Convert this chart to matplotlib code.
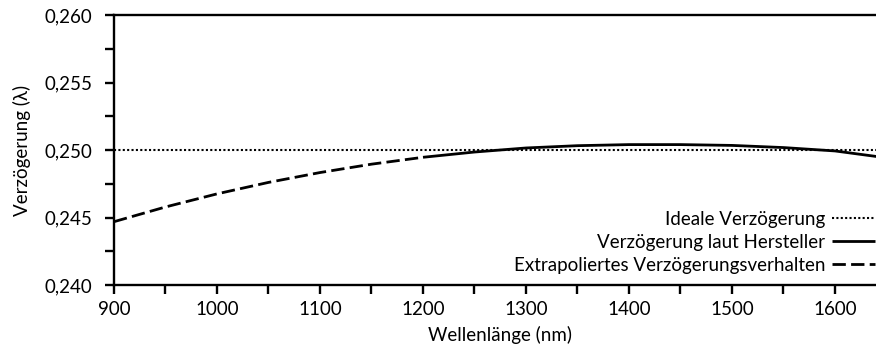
import numpy as np
import matplotlib
matplotlib.use("Agg")
import matplotlib.pyplot as plt
from matplotlib.ticker import MultipleLocator, FuncFormatter

plt.rcParams['font.family'] = ['Lato', 'DejaVu Sans']

# Extrapolated retardation (below the manufacturer's range)
wl_extra = [900, 950, 1000, 1050, 1100, 1150, 1200]
ret_extra = [0.24469, 0.24578, 0.24675, 0.24760, 0.24833, 0.24895, 0.24946]

# Retardation according to manufacturer
wl_manu = [1200, 1250, 1300, 1350, 1400, 1450, 1500, 1550, 1600, 1650]
ret_manu = [0.24946, 0.24985, 0.25015, 0.25032, 0.25040, 0.25040, 0.25034, 0.25018, 0.24993, 0.24942]

# Ideal quarter-wave retardation
ideal = 0.250

labels = ["Ideale Verzögerung", "Verzögerung laut Hersteller",
          "Extrapoliertes Verzögerungsverhalten"]

FS = 13.5
W, H = 876, 349
fig = plt.figure(figsize=(W / 100, H / 100), dpi=100)
x0, x1, y0, y1 = 114, 886.5, 285, 15
ax = fig.add_axes([x0 / W, 1 - y0 / H, (x1 - x0) / W, (y0 - y1) / H])

ax.plot([900, 1650], [ideal, ideal], color='black', lw=1.5,
        linestyle=(0, (1.0, 1.1)), label=labels[0])
ax.plot(wl_manu, ret_manu, color='black', lw=2.0, label=labels[1],
        solid_capstyle='butt')
ax.plot(wl_extra, ret_extra, color='black', lw=2.0,
        linestyle=(0, (4.8, 1.9)), label=labels[2])

ax.set_xlim(900, 1650)
ax.set_ylim(0.240, 0.260)
ax.xaxis.set_major_locator(MultipleLocator(100))
ax.xaxis.set_minor_locator(MultipleLocator(50))
ax.yaxis.set_major_locator(MultipleLocator(0.005))
ax.yaxis.set_minor_locator(MultipleLocator(0.0025))
ax.yaxis.set_major_formatter(FuncFormatter(lambda v, p: f"{v:.3f}".replace('.', ',')))

for s in ax.spines.values():
    s.set_linewidth(1.7)
ax.spines['right'].set_visible(False)
ax.tick_params(which='both', direction='out', length=6.5, width=1.7, labelsize=FS)
ax.tick_params(axis='x', pad=5)
ax.tick_params(axis='y', pad=9)

ax.set_xlabel("Wellenlänge (nm)", fontsize=FS, labelpad=6)
ax.set_ylabel("Verzögerung (λ)", fontsize=FS)
ax.yaxis.set_label_coords(-(x0 - 31) / (x1 - x0), 0.5)

leg = ax.legend(loc='lower right', bbox_to_anchor=(875 / W, 1 - 274 / H),
                bbox_transform=fig.transFigure, frameon=False, markerfirst=False,
                fontsize=FS, handlelength=2.3, handletextpad=0.35,
                labelspacing=0.32, borderpad=0, borderaxespad=0)

fig.savefig("out.png", dpi=100)
